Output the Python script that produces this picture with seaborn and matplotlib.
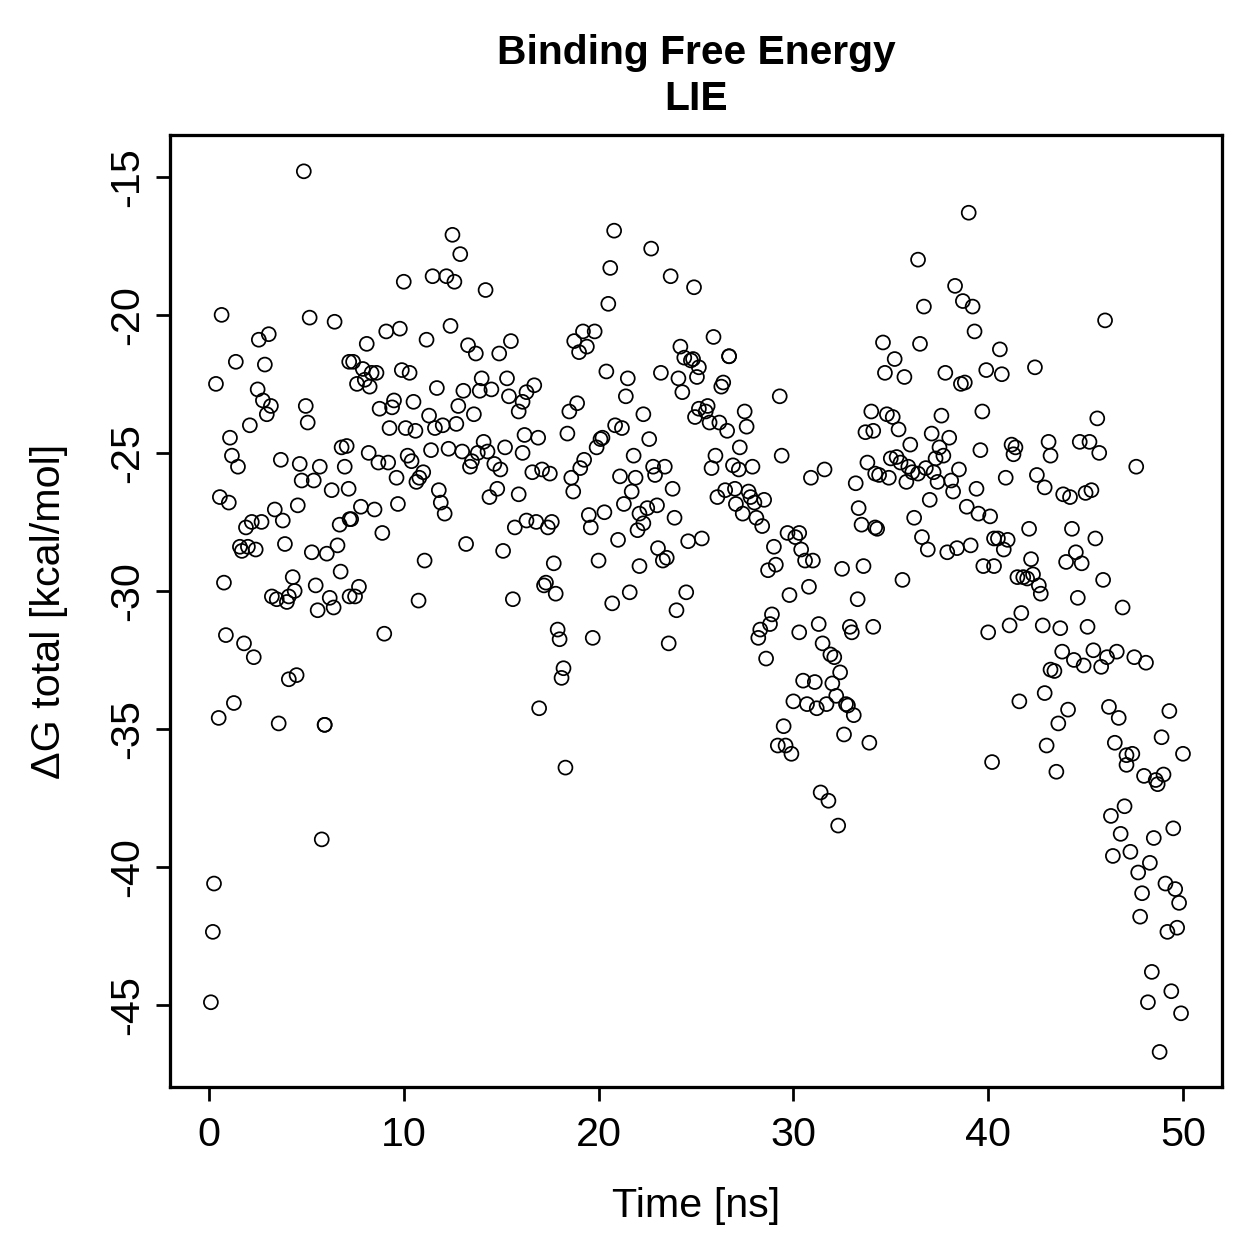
import numpy as np
import pandas as pd
import matplotlib
matplotlib.use("Agg")
import matplotlib.pyplot as plt
import seaborn as sns

# simulation time [ns] and LIE binding free energy [kcal/mol]
time_ns = [
    0.1, 0.2, 0.26, 0.36, 0.5, 0.56, 0.65, 0.77, 0.87, 1.02, 1.08, 1.18, 1.28, 1.38, 1.49, 1.59, 1.69, 1.8, 1.9, 2.0,
    2.1, 2.2, 2.3, 2.4, 2.5, 2.56, 2.7, 2.77, 2.87, 2.97, 3.07, 3.18, 3.23, 3.38, 3.48, 3.58, 3.69, 3.79, 3.9, 4.0,
    4.1, 4.1, 4.3, 4.4, 4.5, 4.56, 4.66, 4.76, 4.87, 4.97, 5.07, 5.17, 5.28, 5.38, 5.48, 5.58, 5.69, 5.79, 5.94, 5.94,
    6.05, 6.2, 6.3, 6.4, 6.45, 6.6, 6.71, 6.76, 6.81, 6.97, 7.07, 7.17, 7.2, 7.22, 7.22,
    7.3, 7.4, 7.5, 7.6, 7.7, 7.8, 7.9, 8.0, 8.1, 8.2, 8.25, 8.35, 8.5, 8.6, 8.7, 8.76, 8.9, 9.0, 9.1, 9.2,
    9.27, 9.4, 9.5, 9.63, 9.7, 9.8, 9.9, 10.0, 10.1, 10.2, 10.3, 10.4, 10.5, 10.6, 10.65, 10.76, 10.8, 11.0, 11.07, 11.17,
    11.3, 11.4, 11.48, 11.6, 11.7, 11.8, 11.9, 12.0, 12.1, 12.19, 12.3, 12.4, 12.5, 12.6, 12.7, 12.8, 12.9, 13.0, 13.06, 13.2,
    13.3, 13.4, 13.5, 13.6, 13.7, 13.8, 13.9, 14.0, 14.1, 14.2, 14.3, 14.4, 14.5, 14.65, 14.8, 14.9, 14.96, 15.1, 15.2, 15.3,
    15.4, 15.5, 15.6, 15.7, 15.9, 15.9, 16.1, 16.3, 16.1, 16.2, 16.3, 16.7,
    16.6, 16.8, 16.9, 16.95, 17.1, 17.2, 17.3, 17.4, 17.5, 17.6, 17.7, 17.8, 17.9, 18.0, 18.1, 18.2, 18.3, 18.4, 18.5, 18.6,
    18.7, 18.75, 18.9, 19.0, 19.06, 19.2, 19.26, 19.4, 19.5, 19.6, 19.7, 19.8, 19.9, 20.0, 20.1, 20.2, 20.3, 20.4, 20.5, 20.6,
    20.7, 20.8, 20.85, 21.0, 21.1, 21.2, 21.3, 21.4, 21.5, 21.6, 21.7, 21.8, 21.9, 22.0, 22.1, 22.1, 22.3, 22.3, 22.5, 22.6,
    22.7, 22.8, 22.9, 23.0, 23.05, 23.2, 23.3, 23.4, 23.5, 23.6, 23.7, 23.8, 23.9, 24.0, 24.1, 24.2, 24.3, 24.4, 24.5, 24.6,
    24.74, 24.85, 24.9, 24.95, 25.05, 25.15, 25.15, 25.3,
    25.5, 25.6, 25.7, 25.8, 25.9, 26.0, 26.1, 26.2, 26.3, 26.4, 26.5, 26.6, 26.7, 26.7, 26.9, 27.0, 27.05, 27.2, 27.25, 27.4,
    27.5, 27.6, 27.7, 27.8, 27.9, 28.0, 28.1, 28.2, 28.3, 28.4, 28.5, 28.6, 28.7, 28.8, 28.9, 29.0, 29.1, 29.2, 29.3, 29.4,
    29.5, 29.6, 29.7, 29.8, 29.9, 30.0, 30.1, 30.3, 30.3, 30.4, 30.5, 30.6, 30.7, 30.8, 30.9, 31.0, 31.1, 31.2, 31.3, 31.4,
    31.5, 31.6, 31.7, 31.8, 31.9, 32.0, 32.1, 32.2, 32.3, 32.4, 32.5, 32.6, 32.7, 32.8, 32.9, 33.0, 33.1, 33.2, 33.3, 33.35,
    33.5, 33.6, 33.7, 33.8, 33.9, 34.0, 34.1, 34.1, 34.2, 34.2,
    34.3, 34.4, 34.6, 34.7, 34.8, 34.9, 35.0, 35.1, 35.2, 35.3, 35.4, 35.5, 35.6, 35.7, 35.8, 35.9, 36.0, 36.1, 36.2, 36.4,
    36.4, 36.5, 36.6, 36.7, 36.8, 36.9, 37.0, 37.1, 37.2, 37.3, 37.4, 37.5, 37.6, 37.7, 37.8, 37.9, 38.0, 38.1, 38.2, 38.3,
    38.4, 38.5, 38.6, 38.7, 38.8, 38.9, 39.0, 39.1, 39.2, 39.3, 39.4, 39.5, 39.6, 39.7, 39.75, 39.9, 40.0, 40.1, 40.2, 40.3,
    40.3, 40.5, 40.6, 40.7, 40.8, 40.9, 41.0, 41.1, 41.2, 41.3, 41.4, 41.5, 41.6, 41.7, 41.8, 42.0, 42.1, 42.2, 42.3, 42.4,
    42.5, 42.6, 42.7, 42.8, 42.9, 42.9, 43.0, 43.1, 43.2, 43.2,
    43.4, 43.5, 43.6, 43.7, 43.8, 43.85, 44.0, 44.1, 44.2, 44.3, 44.4, 44.5, 44.6, 44.7, 44.8, 44.9, 45.0, 45.1, 45.2, 45.3,
    45.4, 45.5, 45.6, 45.7, 45.8, 45.9, 46.0, 46.1, 46.2, 46.3, 46.4, 46.5, 46.6, 46.7, 46.8, 46.9, 47.0, 47.1, 47.1, 47.3,
    47.4, 47.5, 47.6, 47.7, 47.8, 47.9, 48.0, 48.1, 48.2, 48.3, 48.4, 48.5, 48.6, 48.7, 48.8, 48.9, 49.0, 49.1, 49.2, 49.3,
    49.4, 49.5, 49.6, 49.7, 49.8, 49.9, 50.0,
]

dg_total = [
    -44.9, -42.35, -40.6, -22.5, -34.6, -26.6, -20.0, -29.7, -31.6, -26.8, -24.45, -25.1, -34.06, -21.7, -25.5, -28.4, -28.55, -31.9, -27.7, -28.4,
    -24.0, -27.5, -32.4, -28.5, -22.7, -20.9, -27.5, -23.1, -21.8, -23.6, -20.7, -23.3, -30.2, -27.05, -30.3, -34.8, -25.25, -27.45, -28.3, -30.4,
    -30.2, -33.2, -29.5, -30.0, -33.05, -26.9, -25.4, -26.0, -14.8, -23.3, -23.9, -20.1, -28.6, -26.0, -29.8, -30.7, -25.5, -39.0, -34.85, -34.85,
    -28.65, -30.25, -26.35, -30.6, -20.25, -28.35, -27.6, -29.3, -24.8, -25.5, -24.75, -26.3, -21.7, -27.4, -30.2,
    -27.4, -21.7, -30.2, -22.5, -29.85, -26.95, -21.96, -22.35, -21.05, -25.0, -22.6, -22.1, -27.05, -22.1, -25.35, -23.4, -27.9, -31.55, -20.6, -25.35,
    -24.1, -23.35, -23.1, -25.9, -26.85, -20.5, -22.0, -18.8, -24.1, -25.1, -22.1, -25.3, -23.15, -24.2, -26.05, -30.35, -25.9, -25.7, -28.9, -20.9,
    -23.65, -24.9, -18.6, -24.1, -22.65, -26.35, -26.8, -24.0, -27.2, -18.6, -24.85, -20.4, -17.1, -18.8, -23.95, -23.3, -17.8, -24.95, -22.75, -28.3,
    -21.1, -25.5, -25.3, -23.6, -21.4, -25.0, -22.75, -22.3, -24.6, -19.1, -24.95, -26.6, -22.7, -25.4, -26.3, -21.4, -25.6, -28.55, -24.8, -22.3,
    -22.95, -20.95, -30.3, -27.7, -23.5, -26.5, -23.15, -22.8, -25.0, -24.35, -27.45, -22.55,
    -25.7, -27.5, -24.45, -34.25, -25.6, -29.8, -29.7, -27.7, -25.75, -27.5, -29.0, -30.1, -31.4, -31.75, -33.15, -32.8, -36.4, -24.3, -23.5, -25.9,
    -26.4, -20.95, -23.2, -21.35, -25.55, -20.6, -25.25, -21.15, -27.25, -27.7, -31.7, -20.6, -24.8, -28.9, -24.5, -24.45, -27.15, -22.05, -19.6, -18.3,
    -30.45, -16.95, -24.0, -28.15, -25.85, -24.1, -26.85, -22.95, -22.3, -30.05, -26.4, -25.1, -25.9, -27.8, -27.2, -29.1, -23.6, -27.55, -27.0, -24.5,
    -17.6, -25.5, -25.8, -26.9, -28.45, -22.1, -28.9, -25.5, -28.8, -31.9, -18.6, -26.3, -27.35, -30.7, -22.3, -21.15, -22.8, -21.55, -30.05, -28.2,
    -21.65, -21.6, -19.0, -23.7, -22.25, -21.9, -23.4, -28.1,
    -23.5, -23.3, -23.9, -25.55, -20.8, -25.1, -26.6, -23.9, -22.6, -22.45, -26.35, -24.2, -21.5, -21.5, -25.45, -26.3, -26.85, -25.6, -24.8, -27.2,
    -23.5, -24.05, -26.4, -26.6, -25.5, -26.8, -27.35, -31.7, -31.4, -27.65, -26.7, -32.45, -29.25, -31.2, -30.85, -28.4, -29.05, -35.6, -22.95, -25.1,
    -34.9, -35.6, -27.9, -30.15, -35.9, -34.0, -28.05, -27.9, -31.5, -28.5, -33.25, -28.9, -34.1, -29.85, -25.9, -28.9, -33.3, -34.25, -31.2, -37.3,
    -31.9, -25.6, -34.1, -37.6, -32.3, -33.35, -32.4, -33.8, -38.5, -32.95, -29.2, -35.2, -34.1, -34.15, -31.3, -31.5, -34.5, -26.1, -30.3, -27.0,
    -27.6, -29.1, -24.25, -25.35, -35.5, -23.5, -24.2, -31.3, -25.75, -27.7,
    -27.75, -25.8, -21.0, -22.1, -23.6, -25.9, -25.2, -23.7, -21.6, -25.15, -24.15, -25.35, -29.6, -22.25, -26.05, -25.5, -24.7, -25.7, -27.35, -18.0,
    -25.75, -21.05, -28.05, -19.7, -25.55, -28.5, -26.7, -24.3, -25.7, -25.2, -26.05, -24.8, -23.65, -25.1, -22.1, -28.6, -24.45, -26.0, -26.4, -18.95,
    -28.45, -25.6, -22.5, -19.5, -22.45, -26.95, -16.3, -28.35, -19.7, -20.6, -26.3, -27.2, -24.9, -23.5, -29.1, -22.0, -31.5, -27.3, -36.2, -28.1,
    -29.1, -28.1, -21.25, -22.15, -28.5, -25.9, -28.15, -31.25, -24.7, -25.05, -24.8, -29.5, -34.0, -30.8, -29.5, -29.55, -27.75, -28.85, -29.4, -21.9,
    -25.8, -29.8, -30.1, -31.25, -26.25, -33.7, -35.6, -24.6, -25.1, -32.85,
    -32.9, -36.55, -34.8, -31.35, -32.2, -26.5, -28.95, -34.3, -26.6, -27.75, -32.5, -28.6, -30.25, -24.6, -29.0, -32.7, -26.45, -31.3, -24.6, -26.35,
    -32.15, -28.1, -23.75, -25.0, -32.75, -29.6, -20.2, -32.4, -34.2, -38.15, -39.6, -35.5, -32.2, -34.6, -38.8, -30.6, -37.8, -35.95, -36.3, -39.45,
    -35.9, -32.4, -25.5, -40.2, -41.8, -40.95, -36.7, -32.6, -44.9, -39.85, -43.8, -38.95, -36.85, -37.0, -46.7, -35.3, -36.65, -40.6, -42.35, -34.35,
    -44.5, -38.6, -40.8, -42.2, -41.3, -45.3, -35.9,
]

x_ticks = [0, 10, 20, 30, 40, 50]
y_ticks = [-15, -20, -25, -30, -35, -40, -45]

df = pd.DataFrame({"time": time_ns, "dg": dg_total})

sns.set_style("ticks")
plt.rcParams["font.family"] = ["Liberation Sans", "DejaVu Sans"]
plt.rcParams["axes.unicode_minus"] = False
plt.rcParams["text.color"] = "black"
plt.rcParams["axes.labelcolor"] = "black"

fig = plt.figure(figsize=(6.995, 6.995), dpi=180)
ax = fig.add_axes([0.135, 0.1366, 0.8355, 0.7562])

sns.scatterplot(data=df, x="time", y="dg", ax=ax, marker="o", s=31,
                facecolor="none", edgecolor="black", linewidth=0.7)
ax.collections[0].set_facecolor("none")

ax.set_xlim(-2, 52)
ax.set_ylim(-47.97, -13.48)
ax.set_xticks(x_ticks)
ax.set_yticks(y_ticks)
ax.tick_params(axis="both", direction="out", length=5.6, width=1.1,
               labelsize=16.5, color="black", labelcolor="black")
ax.tick_params(axis="x", pad=6)
ax.tick_params(axis="y", pad=4)
plt.setp(ax.get_yticklabels(), rotation=90, va="center")

for side in ["left", "right", "top", "bottom"]:
    ax.spines[side].set_visible(True)
    ax.spines[side].set_linewidth(1.3)
    ax.spines[side].set_color("black")

ax.set_xlabel("Time [ns]", fontsize=16.5, labelpad=13)
ax.set_ylabel("ΔG total [kcal/mol]", fontsize=16.5, labelpad=16)
ax.set_title("Binding Free Energy\nLIE", fontsize=16.3, fontweight="bold",
             linespacing=1.25, pad=10, color="black")

fig.savefig("out.png", dpi=180, facecolor="white")
